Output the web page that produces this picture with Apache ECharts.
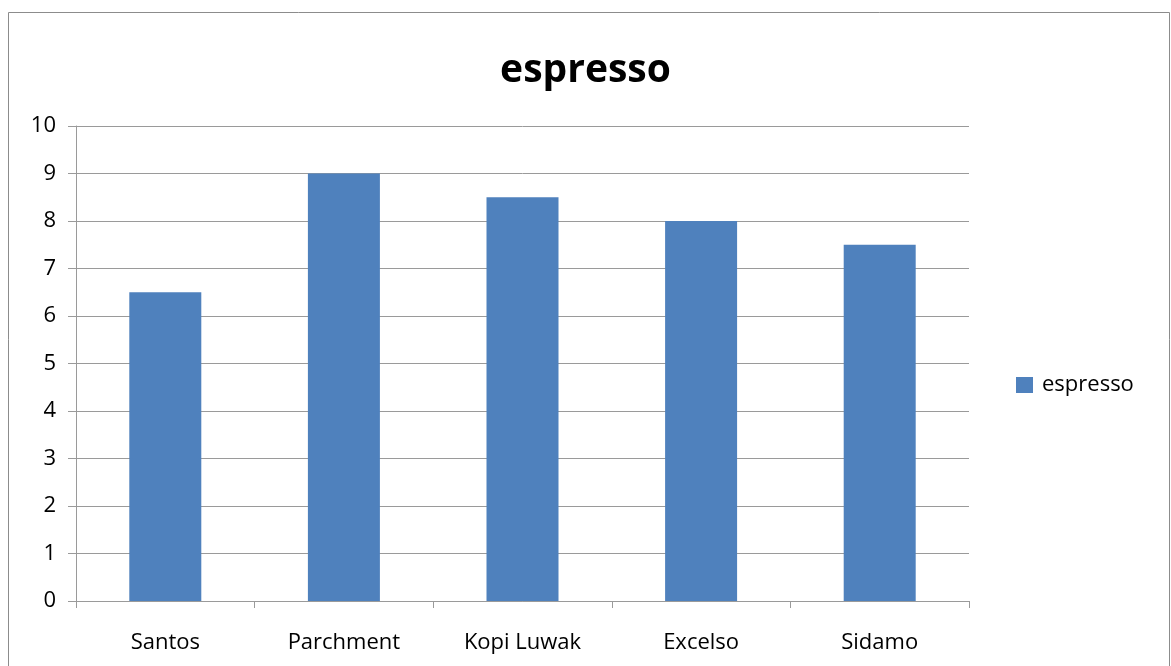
<!DOCTYPE html>
<html>
<head>
<meta charset="utf-8">
<style>
  html, body { margin: 0; padding: 0; background: #fff; }
  #chart { width: 1171px; height: 666px; }
</style>
<script src="https://cdn.jsdelivr.net/npm/echarts@6/dist/echarts.min.js"></script>
</head>
<body>
<div id="chart"></div>
<script>
// Espresso ratings per coffee variety
const categories = ['Santos', 'Parchment', 'Kopi Luwak', 'Excelso', 'Sidamo'];
const espresso = [6.5, 9, 8.5, 8, 7.5];
const seriesName = 'espresso';
const chartTitle = 'espresso';

const chart = echarts.init(document.getElementById('chart'), null, { renderer: 'canvas' });
const font = '"Open Sans", "Liberation Sans", sans-serif';

chart.setOption({
  animation: false,
  backgroundColor: '#ffffff',
  title: {
    text: chartTitle,
    left: 'center',
    top: 51,
    padding: 0,
    textStyle: { fontFamily: font, fontSize: 39, fontWeight: 'bold', color: '#000' }
  },
  legend: {
    data: [seriesName],
    orient: 'vertical',
    left: 1016,
    top: 374,
    padding: 0,
    icon: 'rect',
    itemWidth: 17,
    itemHeight: 16,
    itemGap: 8,
    textStyle: { fontFamily: font, fontSize: 22, color: '#000', padding: [0, 0, 0, 4] }
  },
  grid: { left: 76, right: 202, top: 126, bottom: 65, containLabel: false },
  xAxis: {
    type: 'category',
    data: categories,
    axisLine: { lineStyle: { color: '#9a9a9a', width: 1 } },
    axisTick: { show: true, length: 7, lineStyle: { color: '#9a9a9a' } },
    axisLabel: { fontFamily: font, fontSize: 22, color: '#000', margin: 31 },
    splitLine: { show: false }
  },
  yAxis: {
    type: 'value',
    min: 0,
    max: 10,
    interval: 1,
    axisLine: { show: true, lineStyle: { color: '#9a9a9a', width: 1 } },
    axisTick: { show: true, length: 8, lineStyle: { color: '#9a9a9a' } },
    axisLabel: { fontFamily: font, fontSize: 22, color: '#000', margin: 20 },
    splitLine: { show: true, lineStyle: { color: '#9a9a9a', width: 1 } }
  },
  series: [{
    name: seriesName,
    type: 'bar',
    data: espresso,
    barWidth: 72,
    itemStyle: { color: '#4f81bd' }
  }],
  graphic: [{
    type: 'rect',
    shape: { x: 8.5, y: 12.5, width: 1161, height: 680 },
    style: { fill: 'none', stroke: '#8c8c8c', lineWidth: 1 },
    silent: true,
    z: 100
  }]
});
</script>
</body>
</html>
